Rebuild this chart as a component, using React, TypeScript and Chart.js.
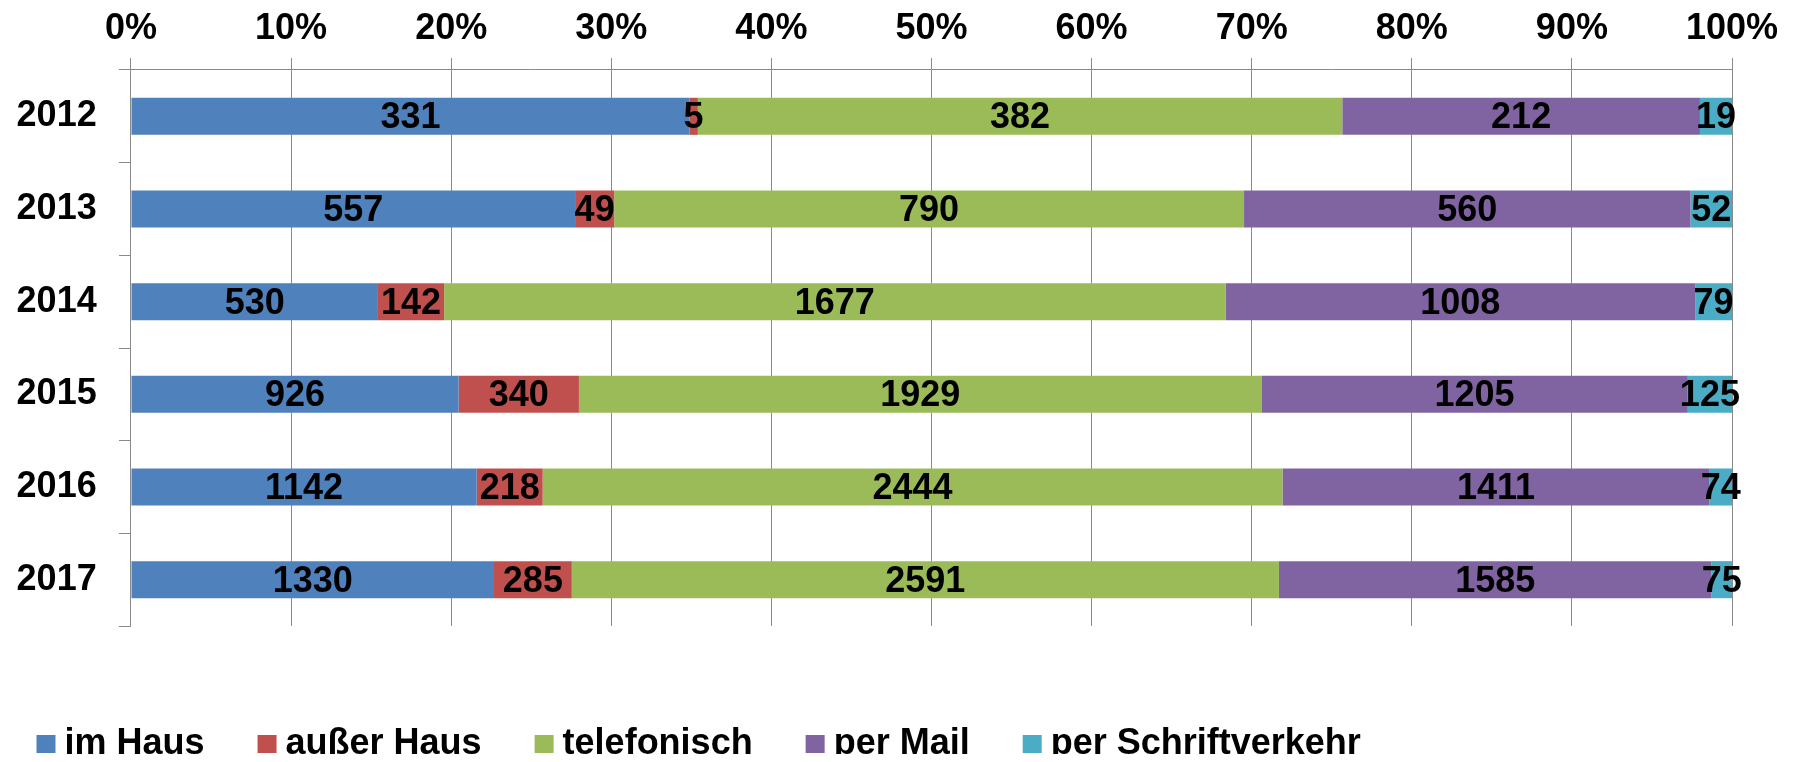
import React, { useEffect, useRef } from 'react';
import { Chart, registerables } from 'chart.js';

Chart.register(...registerables);

const years = ['2012', '2013', '2014', '2015', '2016', '2017'];
const imHaus = [331, 557, 530, 926, 1142, 1330];
const ausserHaus = [5, 49, 142, 340, 218, 285];
const telefonisch = [382, 790, 1677, 1929, 2444, 2591];
const perMail = [212, 560, 1008, 1205, 1411, 1585];
const perSchriftverkehr = [19, 52, 79, 125, 74, 75];

const seriesNames = ['im Haus', 'außer Haus', 'telefonisch', 'per Mail', 'per Schriftverkehr'];
const seriesValues = [imHaus, ausserHaus, telefonisch, perMail, perSchriftverkehr];
const seriesColors = ['#4F81BD', '#C0504D', '#9BBB59', '#8064A2', '#4BACC6'];

const FONT_FAMILY = '"Liberation Sans", Arial, Helvetica, sans-serif';
const GRID_COLOR = '#8a8a8a';

const totals = years.map((_, j) => seriesValues.reduce((s, arr) => s + arr[j], 0));

const valueLabelPlugin = {
  id: 'valueLabels',
  afterDatasetsDraw(chart: any) {
    const ctx = chart.ctx;
    ctx.save();
    ctx.font = `bold 36px ${FONT_FAMILY}`;
    ctx.fillStyle = '#000000';
    ctx.textAlign = 'center';
    ctx.textBaseline = 'middle';
    chart.data.datasets.forEach((ds: any, i: number) => {
      const meta = chart.getDatasetMeta(i);
      meta.data.forEach((bar: any, j: number) => {
        const p = bar.getProps(['x', 'y', 'base'], true);
        const cx = (p.x + p.base) / 2;
        ctx.fillText(String(seriesValues[i][j]), cx, p.y + 2);
      });
    });
    ctx.restore();
  },
};

const legendPlugin = {
  id: 'customLegend',
  afterDraw(chart: any) {
    const ctx = chart.ctx;
    ctx.save();
    ctx.font = `bold 36px ${FONT_FAMILY}`;
    ctx.textAlign = 'left';
    ctx.textBaseline = 'alphabetic';
    let x = 28.5;
    const baseline = 746;
    seriesNames.forEach((name, i) => {
      ctx.fillStyle = seriesColors[i];
      ctx.fillRect(x, baseline - 19, 19, 18);
      ctx.fillStyle = '#000000';
      const tx = x + 28;
      ctx.fillText(name, tx, baseline);
      x = tx + ctx.measureText(name).width + 53;
    });
    ctx.restore();
  },
};

export default function App() {
  const canvasRef = useRef<HTMLCanvasElement | null>(null);

  useEffect(() => {
    if (!canvasRef.current) return;
    const chart = new Chart(canvasRef.current, {
      type: 'bar',
      data: {
        labels: years,
        datasets: seriesNames.map((name, i) => ({
          label: name,
          data: seriesValues[i].map((v, j) => (v / totals[j]) * 100),
          backgroundColor: seriesColors[i],
          borderWidth: 0,
          barPercentage: 0.4,
          categoryPercentage: 1,
          stack: 's',
        })),
      },
      options: {
        indexAxis: 'y',
        animation: false,
        responsive: true,
        maintainAspectRatio: false,
        layout: { padding: { left: -13.7, right: 57, top: -8.6, bottom: 136 } },
        plugins: {
          legend: { display: false },
          tooltip: { enabled: false },
        },
        scales: {
          x: {
            position: 'top',
            stacked: true,
            min: 0,
            max: 100,
            ticks: {
              stepSize: 10,
              padding: 7.7,
              color: '#000000',
              font: { family: FONT_FAMILY, size: 36, weight: 'bold' },
              callback: (v: any) => `${v}%`,
            },
            grid: {
              color: GRID_COLOR,
              lineWidth: 1,
              drawTicks: true,
              tickLength: 12,
              tickColor: GRID_COLOR,
            },
            border: { display: true, color: GRID_COLOR, width: 1 },
          },
          y: {
            stacked: true,
            offset: true,
            ticks: {
              padding: 22.3,
              color: '#000000',
              font: { family: FONT_FAMILY, size: 36, weight: 'bold' },
            },
            grid: {
              offset: true,
              drawOnChartArea: false,
              drawTicks: true,
              tickLength: 12,
              color: GRID_COLOR,
              tickColor: GRID_COLOR,
            },
            border: { display: true, color: GRID_COLOR, width: 1 },
          },
        },
      },
      plugins: [valueLabelPlugin, legendPlugin],
    } as any);
    return () => chart.destroy();
  }, []);

  return (
    <div style={{ position: 'relative', width: '100%', height: '754px', marginBottom: '-8px' }}>
      <canvas ref={canvasRef} />
    </div>
  );
}
